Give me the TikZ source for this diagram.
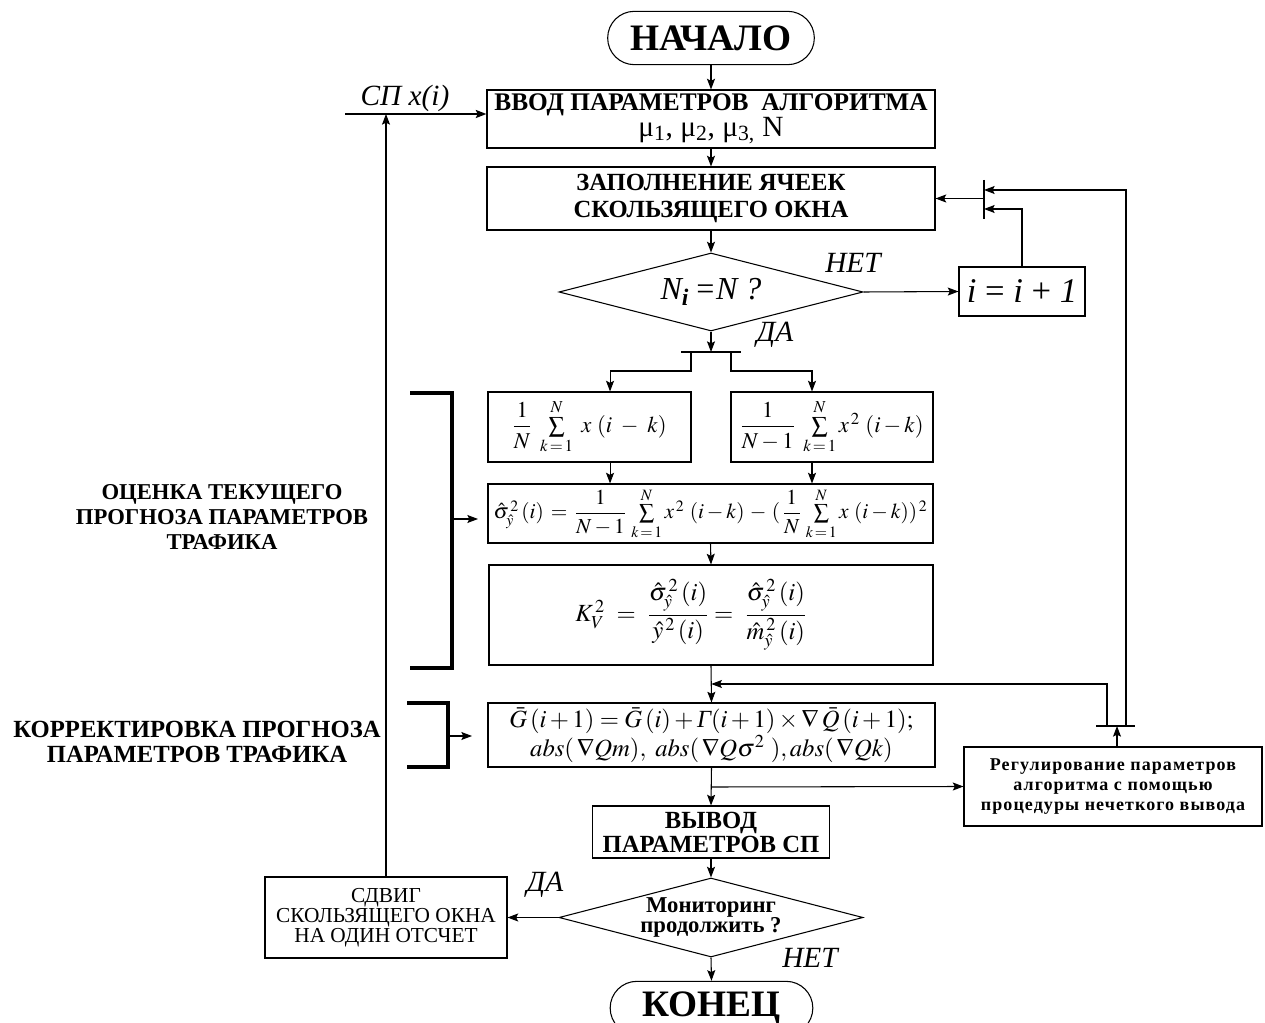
\documentclass[tikz,border=0pt]{standalone}
\usepackage{amsmath}
\usepackage{mathptmx}
\usepackage{fontspec}
\setmainfont{Liberation Serif}
\usetikzlibrary{arrows.meta,shapes.geometric,shapes.misc,calc}
\begin{document}
\begin{tikzpicture}[x=0.75pt,y=-0.75pt,
  line width=0.8pt,
  >={Stealth[length=8pt,width=6pt,inset=1.5pt]},
  box/.style={draw,rectangle,inner sep=0pt,align=center},
  term/.style={draw,rounded rectangle,inner sep=0pt,font=\bfseries\fontsize{28}{30}\selectfont},
  cond/.style={draw,diamond,inner sep=0pt,aspect=3.9,align=center},
  bracket/.style={line width=2.6pt},
  yesno/.style={font=\itshape\fontsize{22}{24}\selectfont},
  caps/.style={font=\bfseries\fontsize{17}{19}\selectfont,align=center},
  fml/.style={font=\fontsize{17}{20}\selectfont},
]
\useasboundingbox (0,0) rectangle (1265,1023);
\clip (0,0) rectangle (1265,1023);

% ---- main column ----
\node[term,minimum width=155pt,minimum height=40pt] (start) at (711,38) {НАЧАЛО};
\node[box,minimum width=336pt,minimum height=43.5pt] (in) at (711,119)
  {\bfseries\fontsize{19}{19}\selectfont ВВОД ПАРАМЕТРОВ\ \ АЛГОРИТМА\\
   \mdseries\fontsize{22}{21}\selectfont μ\textsubscript{1}, μ\textsubscript{2}, μ\textsubscript{3,} N};
\node[box,minimum width=336pt,minimum height=47.25pt,font=\bfseries\fontsize{18.5}{20}\selectfont] (fill) at (711,198.5)
  {ЗАПОЛНЕНИЕ ЯЧЕЕК\\СКОЛЬЗЯЩЕГО ОКНА};
\node[cond,minimum width=228pt,minimum height=58.5pt,font=\itshape\fontsize{24}{24}\selectfont] (chk) at (711,292)
  {N\textsubscript{\textbf{i}}\,=N ?};
\node[box,minimum width=94.5pt,minimum height=36.75pt,font=\fontsize{26}{26}\selectfont] (inc) at (1022,291.5)
  {\textit{i} = \textit{i} + \textit{1}};

\node[box,fml,minimum width=152.25pt,minimum height=52.5pt] (mean) at (589.5,427)
  {$\dfrac{1}{N}\ \sum\limits_{k\,=\,1}^{N}\ x\ (i\ -\ k)$};
\node[box,fml,minimum width=151.5pt,minimum height=52.5pt] (sq) at (832,427)
  {$\dfrac{1}{N-1}\ \sum\limits_{k\,=\,1}^{N} x^{\,2}\ (i - k)$};
\node[box,minimum width=333.75pt,minimum height=44.25pt,font=\fontsize{16}{19}\selectfont] (var) at (710.5,513.5)
  {$\hat\sigma^{\,2}_{\hat y}\,(i)\,=\,\dfrac{1}{N-1}\,\sum\limits_{k\,=\,1}^{N} x^{\,2}\ (i -k)\,-\,(\,\dfrac{1}{N}\,\sum\limits_{k\,=\,1}^{N} x\ (i - k))^{\,2}$};
\node[box,minimum width=333pt,minimum height=75pt,font=\fontsize{18.5}{22}\selectfont] (kv) at (711,615)
  {$K^{\,2}_{V}\ =\ \dfrac{\hat\sigma^{\,2}_{\hat y}\,(i)}{\hat y^{\,2}\,(i)}=\ \dfrac{\hat\sigma^{\,2}_{\hat y}\,(i)}{\hat m^{\,2}_{\hat y}\,(i)}$\hspace*{30pt}};
\node[box,minimum width=335.25pt,minimum height=48pt,font=\fontsize{18.5}{20}\selectfont] (upd) at (711.5,735)
  {$\bar G\,(i+1)=\bar G\,(i)+\textit{Γ}(i+1)\times\nabla\,\bar Q\,(i+1);$\\
   $abs(\,\nabla Qm),\ abs(\,\nabla Q\sigma^{2}\ ), abs(\,\nabla Qk)$};
\node[box,minimum width=223.5pt,minimum height=59.25pt,
      font=\bfseries\fontsize{13.5}{15}\selectfont\addfontfeature{LetterSpace=6}] (fuzzy) at (1113,786.5)
  {Регулирование параметров\\алгоритма с помощью\\процедуры нечеткого вывода};
\node[box,minimum width=177.75pt,minimum height=39pt,font=\bfseries\fontsize{18.5}{18}\selectfont] (out) at (711,832)
  {ВЫВОД\\ПАРАМЕТРОВ СП};
\node[cond,minimum width=228pt,minimum height=59.25pt,font=\bfseries\fontsize{17}{15}\selectfont] (more) at (711,917.5)
  {Мониторинг\\продолжить ?};
\node[box,minimum width=181.5pt,minimum height=60.75pt,font=\fontsize{16}{15}\selectfont] (shift) at (386,917.5)
  {СДВИГ\\СКОЛЬЗЯЩЕГО ОКНА\\НА ОДИН ОТСЧЕТ};
\node[term,minimum width=152pt,minimum height=40pt] (end) at (711.5,1008) {КОНЕЦ};

% ---- side labels ----
\node[yesno] (no1) at (853,263) {НЕТ};
\node[yesno] (yes1) at (775,335) {ДА};
\node[yesno] (yes2) at (545,885) {ДА};
\node[yesno] (no2) at (810,958) {НЕТ};
\node[yesno] (srclbl) at (405,98) {СП x(i)};
\node[caps] (est) at (222,517) {ОЦЕНКА ТЕКУЩЕГО\\ПРОГНОЗА ПАРАМЕТРОВ\\ТРАФИКА};
\node[caps,font=\bfseries\fontsize{18.5}{19}\selectfont] (corr) at (197,742) {КОРРЕКТИРОВКА ПРОГНОЗА\\ПАРАМЕТРОВ ТРАФИКА};

% ---- junction points ----
\coordinate (mTop) at (984,190);
\coordinate (mLow) at (984,209);
\coordinate (mMid) at (984,198.5);
\coordinate (spC) at (711,352);
\coordinate (spL) at (691,352);
\coordinate (spR) at (731,352);
\coordinate (fbL) at (1107,726);
\coordinate (fbR) at (1126,726);
\coordinate (fbA) at (1117,726);
\coordinate (jn) at ($(kv.south)!0.5!(upd.north)$);
\coordinate (tap) at (711,787);
\coordinate (src) at (345,114);
\coordinate (bigA) at (452,519);
\coordinate (bigB) at (478,519);
\coordinate (smA) at (448,736);
\coordinate (smB) at (472,736);

% junction bars
\draw (984,180) -- (984,219);
\draw (681,352) -- (741,352);
\draw (1096,726) -- (1135,726);

% ---- connectors ----
\draw[->] (start.south) -- (in.north);
\draw[->] (in.south) -- (fill.north);
\draw[->] (fill.south) -- (chk.north);
\draw[->] (chk.east) -- (inc.west);
\draw[->] (inc.north) |- (mLow);
\draw[->] (fbR) |- (mTop);
\draw[->] (mMid) -- (fill.east);
\draw[->] (chk.south) -- (spC);
\draw[->] (spL) -- ++(0,19) -| ([xshift=15.4pt]mean.north);
\draw[->] (spR) -- ++(0,19) -| ([xshift=-15pt]sq.north);
\draw[->] ([xshift=15.4pt]mean.south) -- ([xshift=15.4pt]mean.south |- var.north);
\draw[->] ([xshift=-15pt]sq.south) -- ([xshift=-15pt]sq.south |- var.north);
\draw[->] (var.south) -- (kv.north);
\draw[->] (kv.south) -- (upd.north);
\draw[->] (fbL) |- (jn);
\draw[->] ([xshift=3pt]fuzzy.north) -- (fbA);
\draw[->] (upd.south) -- (out.north);
\draw[->] (tap) -- (fuzzy.west);
\draw[->] (out.south) -- (more.north);
\draw[->] (more.west) -- (shift.east);
\draw[->] (more.south) -- (end.north);
\draw[->] (shift.north) -- (shift.north |- src);
\draw[->,line width=2.2pt] (src) -- (src -| in.west);

% ---- group brackets ----
\draw[bracket] (410,393) -- (452,393) -- (452,668) -- (410,668);
\draw[->] (bigA) -- (bigB);
\draw[bracket] (407,703) -- (448,703) -- (448,767) -- (407,767);
\draw[->] (smA) -- (smB);
\end{tikzpicture}
\end{document}
